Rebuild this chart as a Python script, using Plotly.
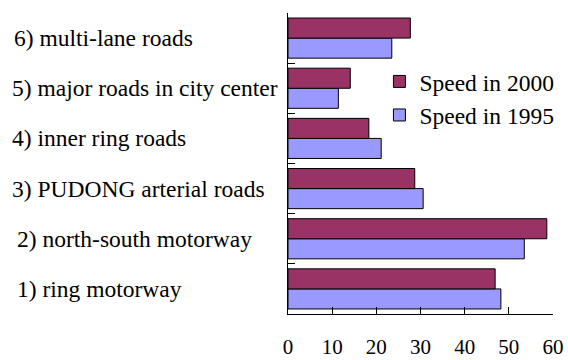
import plotly.graph_objects as go

# Road categories (bottom to top) and average speeds
categories = [
    "1) ring motorway",
    "2) north-south motorway",
    "3) PUDONG arterial roads",
    "4) inner ring roads",
    "5) major roads in city center",
    "6) multi-lane roads",
]
speed_1995 = [48.2, 53.5, 30.6, 21.1, 11.4, 23.5]
speed_2000 = [46.9, 58.6, 28.7, 18.3, 14.1, 27.7]
x_ticks = [0, 10, 20, 30, 40, 50, 60]

# Left edge (px from the page edge) of each category label
label_left_px = [15, 15, 10, 10, 10, 12]

W, H = 568, 360
M_L, M_R, M_T, M_B = 288, 15, 13, 46
plot_w = W - M_L - M_R

FONT = "Liberation Serif"

fig = go.Figure()
fig.add_trace(go.Bar(
    y=categories, x=speed_1995, orientation="h", name="Speed in 1995",
    marker=dict(color="#9999FF", line=dict(color="black", width=1)),
))
fig.add_trace(go.Bar(
    y=categories, x=speed_2000, orientation="h", name="Speed in 2000",
    marker=dict(color="#993366", line=dict(color="black", width=1)),
))

for cat, px in zip(categories, label_left_px):
    fig.add_annotation(
        x=(px - M_L) / plot_w, xref="paper", y=cat, yref="y",
        text=cat, showarrow=False, xanchor="left", yanchor="middle",
        font=dict(family=FONT, size=23.5, color="black"),
    )

fig.update_layout(
    width=W, height=H,
    margin=dict(l=M_L, r=M_R, t=M_T, b=M_B, autoexpand=False),
    paper_bgcolor="white", plot_bgcolor="white",
    barmode="group", bargap=0.2, bargroupgap=0,
    font=dict(family=FONT, size=23.5, color="black"),
    showlegend=True,
    legend=dict(
        x=0.345, y=0.845, xanchor="left", yanchor="top",
        traceorder="reversed", bgcolor="rgba(0,0,0,0)",
        font=dict(family=FONT, size=23.5, color="black"),
    ),
    xaxis=dict(
        range=[0, 60], tickvals=x_ticks, ticktext=[str(v) for v in x_ticks],
        showline=True, linecolor="black", linewidth=1,
        ticks="inside", ticklen=7, tickcolor="black",
        showgrid=False, zeroline=False, automargin=False,
        ticklabelstandoff=14,
        tickfont=dict(family=FONT, size=21, color="black"),
    ),
    yaxis=dict(
        type="category", categoryorder="array", categoryarray=categories,
        showline=True, linecolor="black", linewidth=1,
        ticks="inside", ticklen=7, tickcolor="black", tickson="boundaries",
        showticklabels=False, showgrid=False, zeroline=False, automargin=False,
    ),
)

fig.write_html("out.html")
